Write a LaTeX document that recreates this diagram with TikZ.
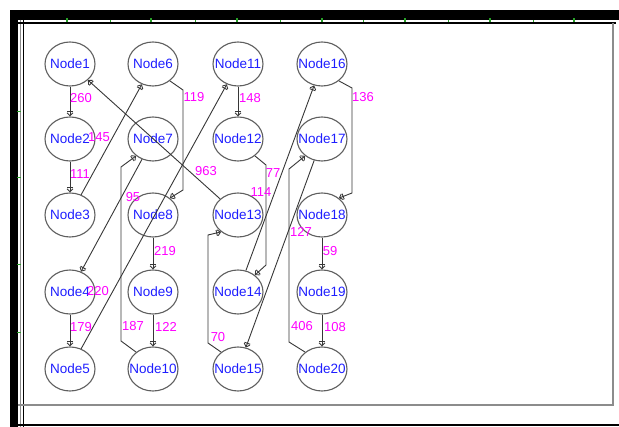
\documentclass[tikz,border=0pt]{standalone}
\usepackage{fontspec}
\setmainfont{Liberation Sans}
\usetikzlibrary{shapes.geometric, arrows.meta}
\definecolor{nodeblue}{RGB}{30,30,255}
\definecolor{wmag}{RGB}{255,0,255}
\definecolor{edgegray}{RGB}{55,55,55}
\definecolor{ringgray}{RGB}{95,95,95}
\definecolor{framegray}{RGB}{140,140,140}
\definecolor{tickgreen}{RGB}{40,160,40}

\begin{document}
\begin{tikzpicture}[x=1pt, y=-1pt,
  nd/.style={ellipse, draw=ringgray, line width=1.1pt, minimum width=50pt,
             minimum height=44pt, inner sep=0pt},
  ndtxt/.style={text=nodeblue, font=\fontsize{13.5}{15}\selectfont, inner sep=0pt},
  wt/.style={text=wmag, font=\fontsize{13}{15}\selectfont, inner sep=0pt},
  edge/.style={draw=edgegray, line width=0.9pt,
               -{Bar[width=6pt, sep=0pt] Straight Barb[length=3pt, width=6pt]}},
]
\useasboundingbox (0,0) rectangle (619,427);
\fill[white] (0,0) rectangle (619,427);

% window frame
\fill[black] (10,10) rectangle (619,20);
\fill[black] (10,10) rectangle (18,427);
\draw[framegray, line width=0.8pt] (20.5,20) -- (20.5,427);
\draw[black, line width=1.2pt] (18,23) -- (616,23);
\draw[black, line width=1.2pt] (23.5,20) -- (23.5,427);
\draw[framegray, line width=1.6pt] (613,23) -- (613,405) -- (18,405);
\draw[black, line width=2pt] (10,425) -- (619,425);

% ruler ticks
\foreach \x in {67,151,237,322,405,490,574}
  \draw[tickgreen, line width=1.2pt] (\x,18.5) -- (\x,22);
\foreach \x in {110,195,280,363,448,533}
  \draw[tickgreen, line width=0.8pt] (\x,20) -- (\x,22);
\foreach \y in {112,178,265,333}
  \draw[tickgreen, line width=1pt] (17,\y) -- (21,\y);

% nodes
\node[nd, label={[ndtxt, name=t1]center:Node1}] (n1) at (70,64) {};
\node[nd, label={[ndtxt, name=t2]center:Node2}] (n2) at (70,139) {};
\node[nd, label={[ndtxt, name=t3]center:Node3}] (n3) at (70,215) {};
\node[nd, label={[ndtxt, name=t4]center:Node4}] (n4) at (70,292) {};
\node[nd, label={[ndtxt, name=t5]center:Node5}] (n5) at (70,369) {};
\node[nd, label={[ndtxt, name=t6]center:Node6}] (n6) at (153,64) {};
\node[nd, label={[ndtxt, name=t7]center:Node7}] (n7) at (153,139) {};
\node[nd, label={[ndtxt, name=t8]center:Node8}] (n8) at (153,215) {};
\node[nd, label={[ndtxt, name=t9]center:Node9}] (n9) at (153,292) {};
\node[nd, label={[ndtxt, name=t10]center:Node10}] (n10) at (153,369) {};
\node[nd, label={[ndtxt, name=t11]center:Node11}] (n11) at (238,64) {};
\node[nd, label={[ndtxt, name=t12]center:Node12}] (n12) at (238,139) {};
\node[nd, label={[ndtxt, name=t13]center:Node13}] (n13) at (238,215) {};
\node[nd, label={[ndtxt, name=t14]center:Node14}] (n14) at (238,292) {};
\node[nd, label={[ndtxt, name=t15]center:Node15}] (n15) at (238,369) {};
\node[nd, label={[ndtxt, name=t16]center:Node16}] (n16) at (322,64) {};
\node[nd, label={[ndtxt, name=t17]center:Node17}] (n17) at (322,139) {};
\node[nd, label={[ndtxt, name=t18]center:Node18}] (n18) at (322,215) {};
\node[nd, label={[ndtxt, name=t19]center:Node19}] (n19) at (322,292) {};
\node[nd, label={[ndtxt, name=t20]center:Node20}] (n20) at (322,369) {};

% straight connectors
\draw[edge] (n1) -- (n2);
\draw[edge] (n2) -- (n3);
\draw[edge] (n4) -- (n5);
\draw[edge] (n8) -- (n9);
\draw[edge] (n9) -- (n10);
\draw[edge] (n11) -- (n12);
\draw[edge] (n18) -- (n19);
\draw[edge] (n19) -- (n20);
\draw[edge] (n3) -- (n6);
\draw[edge] (n7) -- (n4);
\draw[edge] (n5) -- (n11);
\draw[edge] (n13) -- (n1);
\draw[edge] (n14) -- (n16);
\draw[edge] (n17) -- (n15);

% routed connectors
\draw[edge] (n6.-45) -- (183,90) -- (183,190) -- (n8.45);
\draw[edge] (n10.135) -- (121,341) -- (121,167) -- (n7.225);
\draw[edge] (n12.-45) -- (266,165) -- (266,265) -- (n14.45);
\draw[edge] (n15.135) -- (208,343) -- (208,235) -- (n13.225);
\draw[edge] (n20.135) -- (289,342) -- (289,169) -- (n17.225);
\draw[edge] (n16.-45) -- (352,88) -- (352,193) -- (n18.45);

% weights
\node[wt] (w260) at (81,98) {260};
\node[wt] (w145) at (99,137) {145};
\node[wt] (w111) at (80,174) {111};
\node[wt] (w119) at (194,97) {119};
\node[wt] (w95)  at (133,197) {95};
\node[wt] (w963) at (206,171) {963};
\node[wt] (w148) at (250,98) {148};
\node[wt] (w136) at (363,97) {136};
\node[wt] (w77)  at (273,173) {77};
\node[wt] (w114) at (261,192) {114};
\node[wt] (w127) at (301,232) {127};
\node[wt] (w59)  at (330,251) {59};
\node[wt] (w220) at (98,291) {220};
\node[wt] (w179) at (81,327) {179};
\node[wt] (w187) at (133,326) {187};
\node[wt] (w122) at (166,327) {122};
\node[wt] (w219) at (165,251) {219};
\node[wt] (w70)  at (218,337) {70};
\node[wt] (w406) at (302,326) {406};
\node[wt] (w108) at (335,327) {108};
\end{tikzpicture}
\end{document}
